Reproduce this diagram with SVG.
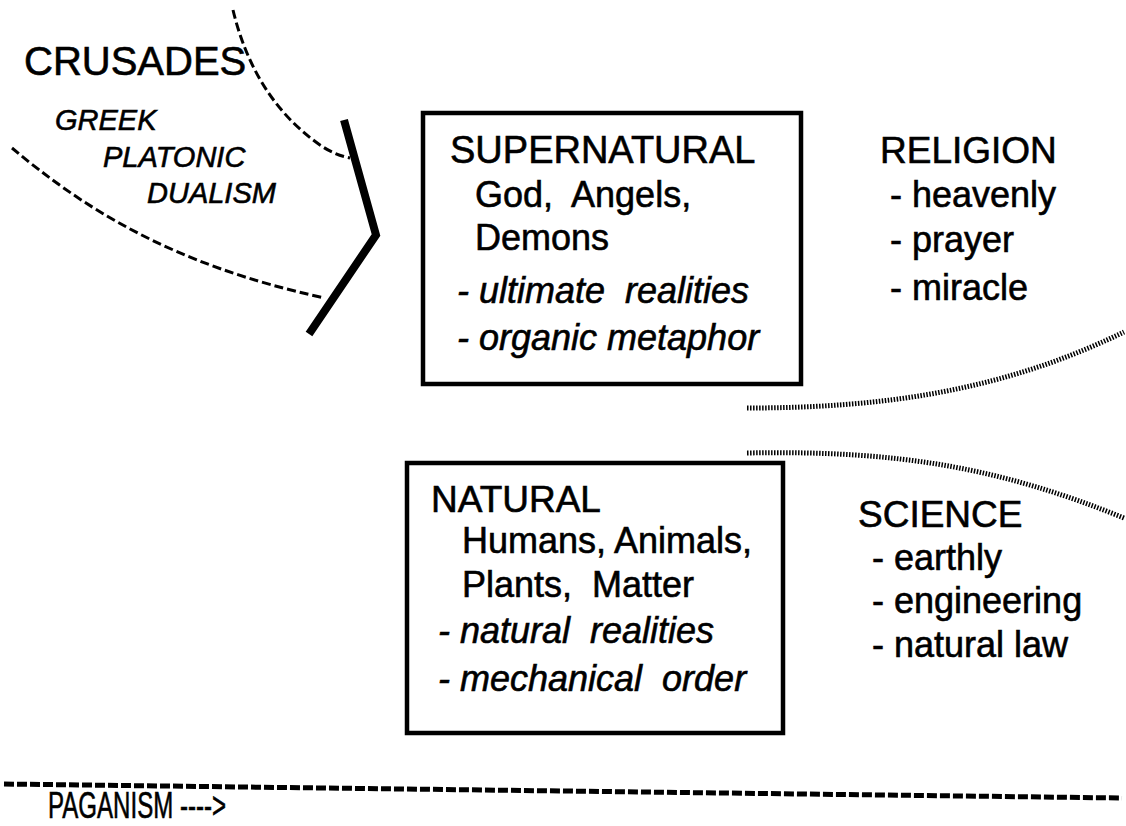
<svg xmlns="http://www.w3.org/2000/svg" width="1126" height="826" viewBox="0 0 1126 826">
<style>
text{font-family:"Liberation Sans",Arial,sans-serif;fill:#000;stroke:#000;stroke-width:0.6;white-space:pre}
.h{font-size:37px}
.b{font-size:36px}
.i{font-size:36px;font-style:italic}
.gi{font-size:29px;font-style:italic}
.box{fill:none;stroke:#000;stroke-width:4.5}
.dash{fill:none;stroke:#000;stroke-width:3;stroke-dasharray:9 4}
.hatch{fill:none;stroke:#000;stroke-width:5;stroke-dasharray:1.5 1.5}
</style>
<rect width="1126" height="826" fill="#fff"/>
<g id="connectors">
<path class="dash" d="M233,10 C245,60 270,110 320,145 C330,152 340,156 350,158"/>
<path class="dash" d="M12,148 C80,205 170,265 325,298"/>
<polyline points="344,120 376,235 309,334" fill="none" stroke="#000" stroke-width="8" stroke-linejoin="miter"/>
<path class="hatch" d="M747,408 C880,408 1000,392 1124,332"/>
<path class="hatch" d="M747,453 C900,450 1000,468 1124,518"/>
<path d="M4,784 L1122,798" fill="none" stroke="#000" stroke-width="5" stroke-dasharray="10 3"/>
</g>
<g id="crusades">
<text x="24" y="75" style="font-size:40px">CRUSADES</text>
<text x="55" y="130" class="gi">GREEK</text>
<text x="103" y="167" class="gi">PLATONIC</text>
<text x="147" y="203" class="gi">DUALISM</text>
</g>
<g id="supernatural">
<rect class="box" x="423" y="113" width="378" height="271"/>
<text x="450" y="163" style="font-size:38px">SUPERNATURAL</text>
<text x="475" y="207" class="b" xml:space="preserve">God,  Angels,</text>
<text x="475" y="250" class="b">Demons</text>
<text x="457" y="303" class="i" xml:space="preserve">- ultimate  realities</text>
<text x="457" y="350" class="i">- organic metaphor</text>
</g>
<g id="natural">
<rect class="box" x="407" y="463" width="376" height="270"/>
<text x="431" y="512" class="h">NATURAL</text>
<text x="462" y="553" class="b">Humans, Animals,</text>
<text x="462" y="597" class="b" xml:space="preserve">Plants,  Matter</text>
<text x="438" y="643" class="i" xml:space="preserve">- natural  realities</text>
<text x="438" y="691" class="i" xml:space="preserve">- mechanical  order</text>
</g>
<g id="religion">
<text x="880" y="163" class="h">RELIGION</text>
<text x="890" y="207" class="b">- heavenly</text>
<text x="890" y="252" class="b">- prayer</text>
<text x="890" y="300" class="b">- miracle</text>
</g>
<g id="science">
<text x="858" y="527" class="h">SCIENCE</text>
<text x="872" y="570" class="b">- earthly</text>
<text x="872" y="613" class="b">- engineering</text>
<text x="872" y="657" class="b">- natural law</text>
</g>
<g id="paganism">
<text x="48" y="818" class="b" textLength="178" lengthAdjust="spacingAndGlyphs">PAGANISM ----&gt;</text>
</g>
</svg>
